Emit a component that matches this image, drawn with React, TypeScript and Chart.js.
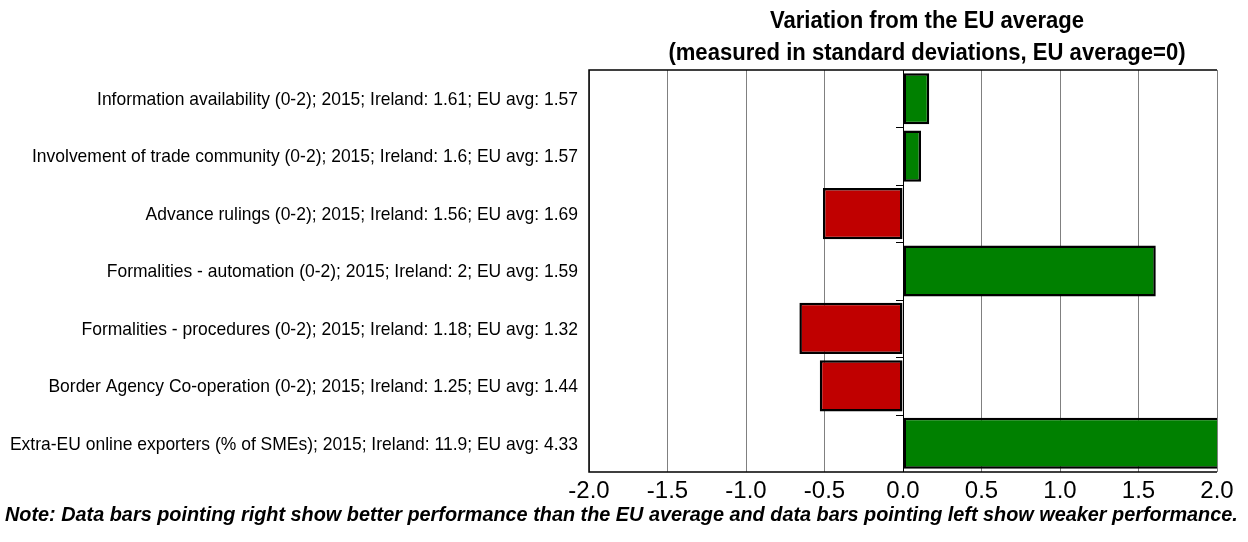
import React, { useEffect, useRef } from "react";
import { Chart, registerables } from "chart.js";

Chart.register(...registerables);

const categories: string[] = [
  "Information availability (0-2); 2015; Ireland: 1.61; EU avg: 1.57",
  "Involvement of trade community (0-2); 2015; Ireland: 1.6; EU avg: 1.57",
  "Advance rulings (0-2); 2015; Ireland: 1.56; EU avg: 1.69",
  "Formalities - automation (0-2); 2015; Ireland: 2; EU avg: 1.59",
  "Formalities - procedures (0-2); 2015; Ireland: 1.18; EU avg: 1.32",
  "Border Agency Co-operation (0-2); 2015; Ireland: 1.25; EU avg: 1.44",
  "Extra-EU online exporters (% of SMEs); 2015; Ireland: 11.9; EU avg: 4.33",
];

const deviations: number[] = [0.167, 0.115, -0.51, 1.61, -0.66, -0.53, 2.6];

const xTicks: number[] = [-2, -1.5, -1, -0.5, 0, 0.5, 1, 1.5, 2];

const titleLines: string[] = [
  "Variation from the EU average",
  "(measured in standard deviations, EU average=0)",
];

const noteText =
  "Note: Data bars pointing right show better performance than the EU average and data bars pointing left show weaker performance.";

const SANS = "'Liberation Sans', Arial, sans-serif";

function drawCondensed(ctx: any, text: string, x: number, y: number, font: string, sx: number, align: string) {
  ctx.save();
  ctx.font = font;
  ctx.textAlign = align;
  ctx.translate(x, y);
  ctx.scale(sx, 1);
  ctx.fillText(text, 0, 0);
  ctx.restore();
}

const decorPlugin = {
  id: "decor",
  afterDatasetsDraw(chart: any) {
    const { ctx, chartArea } = chart;
    const xs = chart.scales.x;
    const ys = chart.scales.y;
    ctx.save();
    const zx = xs.getPixelForValue(0);
    ctx.strokeStyle = "#000";
    ctx.lineWidth = 1;
    for (let i = 0; i < categories.length - 1; i++) {
      const y = (ys.getPixelForValue(i) + ys.getPixelForValue(i + 1)) / 2;
      ctx.beginPath();
      ctx.moveTo(zx - 7, Math.round(y) + 0.5);
      ctx.lineTo(zx, Math.round(y) + 0.5);
      ctx.stroke();
    }
    ctx.lineWidth = 1.5;
    ctx.beginPath();
    ctx.moveTo(chartArea.right, chartArea.top);
    ctx.lineTo(chartArea.left, chartArea.top);
    ctx.lineTo(chartArea.left, chartArea.bottom);
    ctx.lineTo(chartArea.right, chartArea.bottom);
    ctx.stroke();
    ctx.restore();
  },
  afterDraw(chart: any) {
    const { ctx, chartArea } = chart;
    const ys = chart.scales.y;
    ctx.save();
    ctx.fillStyle = "#000";
    ctx.textBaseline = "middle";
    categories.forEach((lab, i) => {
      drawCondensed(ctx, lab, chartArea.left - 11, ys.getPixelForValue(i) + 1, "19px " + SANS, 0.92, "right");
    });
    ctx.textBaseline = "alphabetic";
    const cx = (chartArea.left + chartArea.right) / 2 + 24;
    drawCondensed(ctx, titleLines[0], cx, 28, "bold 23px " + SANS, 0.96, "center");
    drawCondensed(ctx, titleLines[1], cx, 60, "bold 23px " + SANS, 0.96, "center");
    drawCondensed(ctx, noteText, 5, 521, "italic bold 21px " + SANS, 0.945, "left");
    ctx.restore();
  },
};

export default function App() {
  const ref = useRef<HTMLCanvasElement | null>(null);
  useEffect(() => {
    document.body.style.margin = "0";
    const canvas = ref.current;
    if (!canvas) return;
    const chart = new Chart(canvas, {
      type: "bar",
      data: {
        labels: categories,
        datasets: [
          {
            data: deviations,
            backgroundColor: (c: any) => ((c.raw ?? 0) >= 0 ? "#008000" : "#C00000"),
            borderColor: "#000",
            borderWidth: 2.5,
            borderSkipped: false,
            barPercentage: 0.89,
            categoryPercentage: 1,
          },
        ],
      },
      options: {
        indexAxis: "y",
        animation: false,
        responsive: false,
        maintainAspectRatio: false,
        layout: { padding: { top: 70, right: 31, bottom: 0, left: 0 } },
        plugins: {
          legend: { display: false },
          tooltip: { enabled: false },
          title: { display: false },
        },
        scales: {
          x: {
            min: -2,
            max: 2,
            afterBuildTicks: (s: any) => {
              s.ticks = xTicks.map((v) => ({ value: v }));
            },
            afterFit: (s: any) => {
              s.height = 70;
            },
            ticks: {
              callback: (v: any) => Number(v).toFixed(1),
              color: "#000",
              font: { family: SANS, size: 24 },
              padding: 5,
              maxRotation: 0,
              autoSkip: false,
            },
            grid: {
              color: (c: any) => (c.tick && c.tick.value === 0 ? "#000" : "#808080"),
              lineWidth: 1,
              drawTicks: false,
            },
            border: { display: false },
          },
          y: {
            ticks: { display: false },
            grid: { display: false, drawTicks: false },
            border: { display: false },
            afterFit: (s: any) => {
              s.width = 589;
            },
          },
        },
      },
      plugins: [decorPlugin],
    });
    return () => chart.destroy();
  }, []);
  return (
    <div style={{ position: "fixed", left: 0, top: 0, width: 1248, height: 542 }}>
      <canvas ref={ref} width={1248} height={542} style={{ display: "block" }} />
    </div>
  );
}
